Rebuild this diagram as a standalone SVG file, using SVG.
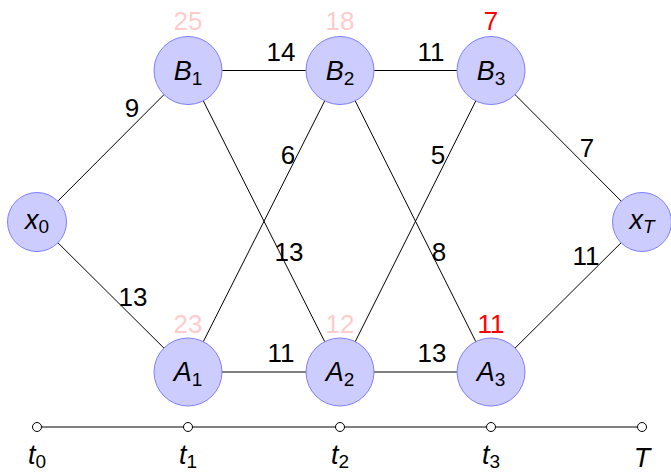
<svg xmlns="http://www.w3.org/2000/svg" width="671" height="473" viewBox="0 0 671 473">
<style>
text{font-family:"Liberation Sans","DejaVu Sans",sans-serif;font-size:26px;fill:#000}
.node circle{fill:#ccccff;stroke:#8080ff;stroke-width:1}
.lbl{text-anchor:middle}
.nl{font-size:27px}
.it{font-style:italic}
.sub{font-size:19px}
.pink{fill:#ffcccc}
.red{fill:#ff0000}
#connectors line{stroke:#000;stroke-width:1}
#timeline line{stroke:#000;stroke-width:1}
#timeline circle{fill:#fff;stroke:#000;stroke-width:1}
</style>
<rect width="671" height="473" fill="#fff"/>
<g id="connectors">
<line x1="37" y1="222" x2="188" y2="70.5"/>
<line x1="37" y1="222" x2="188" y2="372"/>
<line x1="188" y1="70.5" x2="340" y2="70.5"/>
<line x1="340" y1="70.5" x2="491" y2="70.5"/>
<line x1="188" y1="70.5" x2="340" y2="372"/>
<line x1="340" y1="70.5" x2="188" y2="372"/>
<line x1="340" y1="70.5" x2="491" y2="372"/>
<line x1="491" y1="70.5" x2="340" y2="372"/>
<line x1="491" y1="70.5" x2="642" y2="222"/>
<line x1="491" y1="372" x2="642" y2="222"/>
<line x1="188" y1="372" x2="340" y2="372"/>
<line x1="340" y1="372" x2="491" y2="372"/>
</g>
<g id="edge-labels">
<text class="lbl" x="132" y="117">9</text>
<text class="lbl" x="281" y="61">14</text>
<text class="lbl" x="431" y="61">11</text>
<text class="lbl" x="288" y="164">6</text>
<text class="lbl" x="438" y="164">5</text>
<text class="lbl" x="289" y="261">13</text>
<text class="lbl" x="439" y="261">8</text>
<text class="lbl" x="587" y="157">7</text>
<text class="lbl" x="586" y="265">11</text>
<text class="lbl" x="133" y="306">13</text>
<text class="lbl" x="281" y="362">11</text>
<text class="lbl" x="432" y="362">13</text>
</g>
<g id="node-x0" class="node"><circle cx="37" cy="222" r="29.5"/><text class="lbl nl" x="37" y="229"><tspan class="it">x</tspan><tspan class="sub" dy="4">0</tspan></text></g>
<g id="node-B1" class="node"><circle cx="188" cy="70.5" r="34"/><text class="lbl nl" x="188" y="80"><tspan class="it">B</tspan><tspan class="sub" dy="5">1</tspan></text><text class="lbl pink" x="188" y="30">25</text></g>
<g id="node-B2" class="node"><circle cx="340" cy="70.5" r="34"/><text class="lbl nl" x="340" y="80"><tspan class="it">B</tspan><tspan class="sub" dy="5">2</tspan></text><text class="lbl pink" x="340" y="30">18</text></g>
<g id="node-B3" class="node"><circle cx="491" cy="70.5" r="34"/><text class="lbl nl" x="491" y="80"><tspan class="it">B</tspan><tspan class="sub" dy="5">3</tspan></text><text class="lbl red" x="491" y="30">7</text></g>
<g id="node-A1" class="node"><circle cx="188" cy="372" r="34"/><text class="lbl nl" x="188" y="381"><tspan class="it">A</tspan><tspan class="sub" dy="5">1</tspan></text><text class="lbl pink" x="188" y="333">23</text></g>
<g id="node-A2" class="node"><circle cx="340" cy="372" r="34"/><text class="lbl nl" x="340" y="381"><tspan class="it">A</tspan><tspan class="sub" dy="5">2</tspan></text><text class="lbl pink" x="340" y="333">12</text></g>
<g id="node-A3" class="node"><circle cx="491" cy="372" r="34"/><text class="lbl nl" x="491" y="381"><tspan class="it">A</tspan><tspan class="sub" dy="5">3</tspan></text><text class="lbl red" x="491" y="333">11</text></g>
<g id="node-xT" class="node"><circle cx="642" cy="222" r="29.5"/><text class="lbl nl" x="642" y="229"><tspan class="it">x</tspan><tspan class="sub it" dy="4">T</tspan></text></g>
<g id="timeline">
<line x1="37" y1="427" x2="642" y2="427"/>
<circle cx="37" cy="427" r="4.5"/>
<circle cx="188" cy="427" r="4.5"/>
<circle cx="340" cy="427" r="4.5"/>
<circle cx="491" cy="427" r="4.5"/>
<circle cx="642" cy="427" r="4.5"/>
<text class="lbl nl" x="37" y="464"><tspan class="it">t</tspan><tspan class="sub" dy="4">0</tspan></text>
<text class="lbl nl" x="188" y="464"><tspan class="it">t</tspan><tspan class="sub" dy="4">1</tspan></text>
<text class="lbl nl" x="340" y="464"><tspan class="it">t</tspan><tspan class="sub" dy="4">2</tspan></text>
<text class="lbl nl" x="491" y="464"><tspan class="it">t</tspan><tspan class="sub" dy="4">3</tspan></text>
<text class="lbl nl it" x="642" y="467">T</text>
</g>
</svg>
